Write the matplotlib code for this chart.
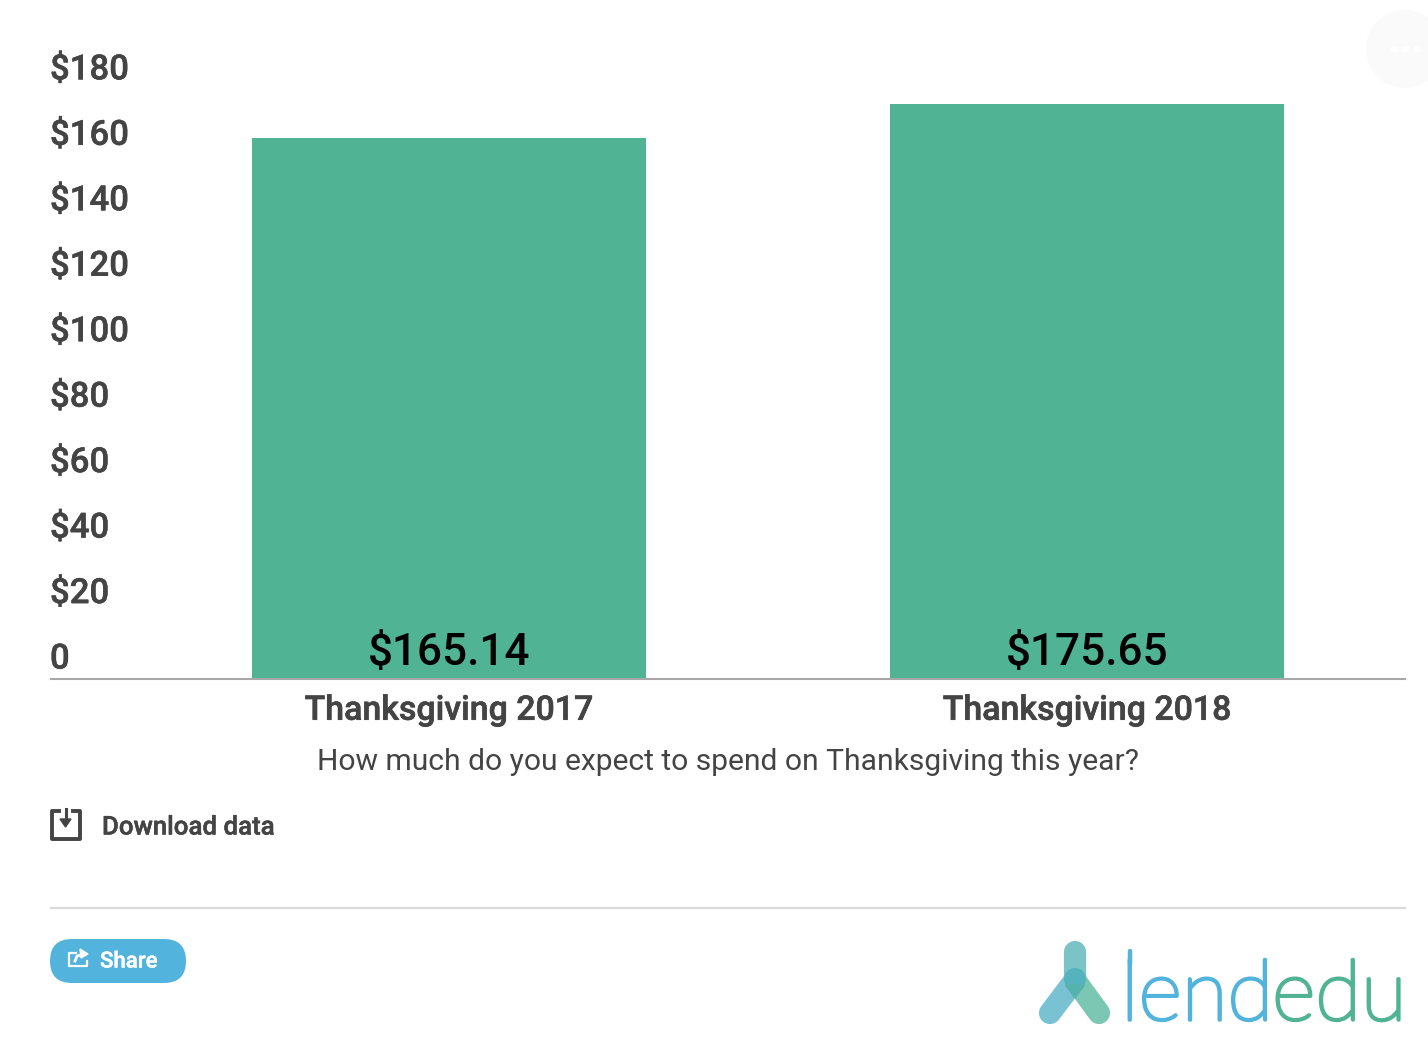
import matplotlib
matplotlib.use('Agg')
import matplotlib.pyplot as plt
import matplotlib.patheffects as pe
from matplotlib.patches import FancyBboxPatch, Circle

plt.rcParams['font.family'] = ['Roboto', 'DejaVu Sans']

# Data
categories = ['Thanksgiving 2017', 'Thanksgiving 2018']
spend = [165.14, 175.65]
bar_labels = ['$165.14', '$175.65']
y_ticks = [0, 20, 40, 60, 80, 100, 120, 140, 160, 180]
y_labels = ['0', '$20', '$40', '$60', '$80', '$100', '$120', '$140', '$160', '$180']

W, H = 1428, 1040
GREEN = '#50b393'
BLUE = '#52b3dc'
DARK = '#444444'


def heavy(color, lw=0.6):
    # the original text renders a bit fatter than Roboto medium does here
    return [pe.withStroke(linewidth=lw, foreground=color)]


fig = plt.figure(figsize=(W / 100, H / 100), dpi=100)

# page overlay in pixel coordinates, y pointing down
page = fig.add_axes([0, 0, 1, 1])
page.set_xlim(0, W)
page.set_ylim(H, 0)
page.axis('off')

# chart axes, 50..1406 px wide, baseline at 678.5, $180 at about 90
ax = fig.add_axes([50 / W, 1 - 678.5 / H, 1356 / W, 589.2 / H])
ax.patch.set_alpha(0)
ax.bar(range(len(spend)), spend, width=0.6176, color=GREEN)
ax.set_xlim(-0.625, 1.5)
ax.set_ylim(0, 180)
for s in ['top', 'left', 'right']:
    ax.spines[s].set_visible(False)
ax.spines['bottom'].set_color('#a8a8a8')
ax.spines['bottom'].set_linewidth(1.5)
ax.spines['bottom'].set_capstyle('butt')
ax.set_xticks(range(len(categories)))
ax.set_xticklabels(categories, fontsize=24.4, fontweight='medium', color=DARK)
for t in ax.get_xticklabels():
    t.set_path_effects(heavy(DARK, 0.45))
ax.tick_params(axis='x', length=0, pad=11.7)
ax.set_yticks([])

# y labels sit above their value, at the left edge
for v, lab in zip(y_ticks, y_labels):
    ax.annotate(lab, (0, v), xycoords=('axes fraction', 'data'), xytext=(0, 14),
                textcoords='offset points', fontsize=25, fontweight='medium',
                color=DARK, ha='left', va='center', path_effects=heavy(DARK, 0.35))

for i, lab in enumerate(bar_labels):
    ax.annotate(lab, (i, 0), xytext=(0, 18.5), textcoords='offset points', fontsize=31.8,
                fontweight='medium', color='black', ha='center', va='center')

page.text(728, 761.5, 'How much do you expect to spend on Thanksgiving this year?',
          fontsize=21.6, color=DARK, ha='center', va='center')

# download icon
page.plot([59, 51.5, 51.5, 80, 80, 72.5], [810.5, 810.5, 838.5, 838.5, 810.5, 810.5],
          color=DARK, lw=2.8, solid_joinstyle='round')
page.plot([65.5, 65.5], [809, 822], color=DARK, lw=2.2)
page.fill([60, 71, 65.5], [819, 819, 827], color=DARK)
page.text(102, 827.5, 'Download data', fontsize=18.6, fontweight='medium', color=DARK,
          ha='left', va='center', path_effects=heavy(DARK, 0.35))

page.plot([50, 1406], [908, 908], color='#d9d9d9', lw=1.5, solid_capstyle='butt')

# share button
page.add_patch(FancyBboxPatch((50, 939), 136, 44, boxstyle='round,pad=0,rounding_size=22',
                              fc=BLUE, ec='none'))
page.plot([76, 69, 69, 87, 87], [953, 953, 966, 966, 961], color='white', lw=1.6)
page.plot([75, 77, 85], [961, 956, 954], color='white', lw=2)
page.fill([80, 88, 81], [949, 954, 958], color='white', zorder=3)
page.text(100, 962, 'Share', fontsize=16, fontweight='medium', color='white',
          ha='left', va='center', path_effects=heavy('white', 0.3))

# more-options button, top right
page.add_patch(Circle((1405, 49), 39, fc='#fafafa', ec='none'))
for x in [1394, 1406, 1417]:
    page.add_patch(Circle((x, 49), 3.5, fc='white', ec='none'))

# logo mark
page.plot([1075, 1075], [952, 985], color='#7cc3c8', lw=16, solid_capstyle='round')
page.plot([1075, 1050], [980, 1013], color='#79c2d4', lw=16, solid_capstyle='round')
page.plot([1075, 1099], [980, 1013], color='#7cc6b4', lw=16, solid_capstyle='round')
page.add_patch(Circle((1075, 979), 11, fc='#55b3bd', ec='none', zorder=3))
page.fill([1065.5, 1084.5, 1075], [985, 985, 998], color='#55b3ad', zorder=3)

# logo wordmark
page.plot([1130, 1130], [951, 965], color=BLUE, lw=3.2, solid_capstyle='round')
page.text(1121, 1020, 'lend', fontsize=60.5, family='Lato', fontweight='light', color=BLUE,
          ha='left', va='baseline', path_effects=heavy(BLUE, 2.4))
page.text(1272, 1020, 'edu', fontsize=60.5, family='Lato', fontweight='light', color=GREEN,
          ha='left', va='baseline', path_effects=heavy(GREEN, 2.4))

fig.savefig('out.png', dpi=100)
